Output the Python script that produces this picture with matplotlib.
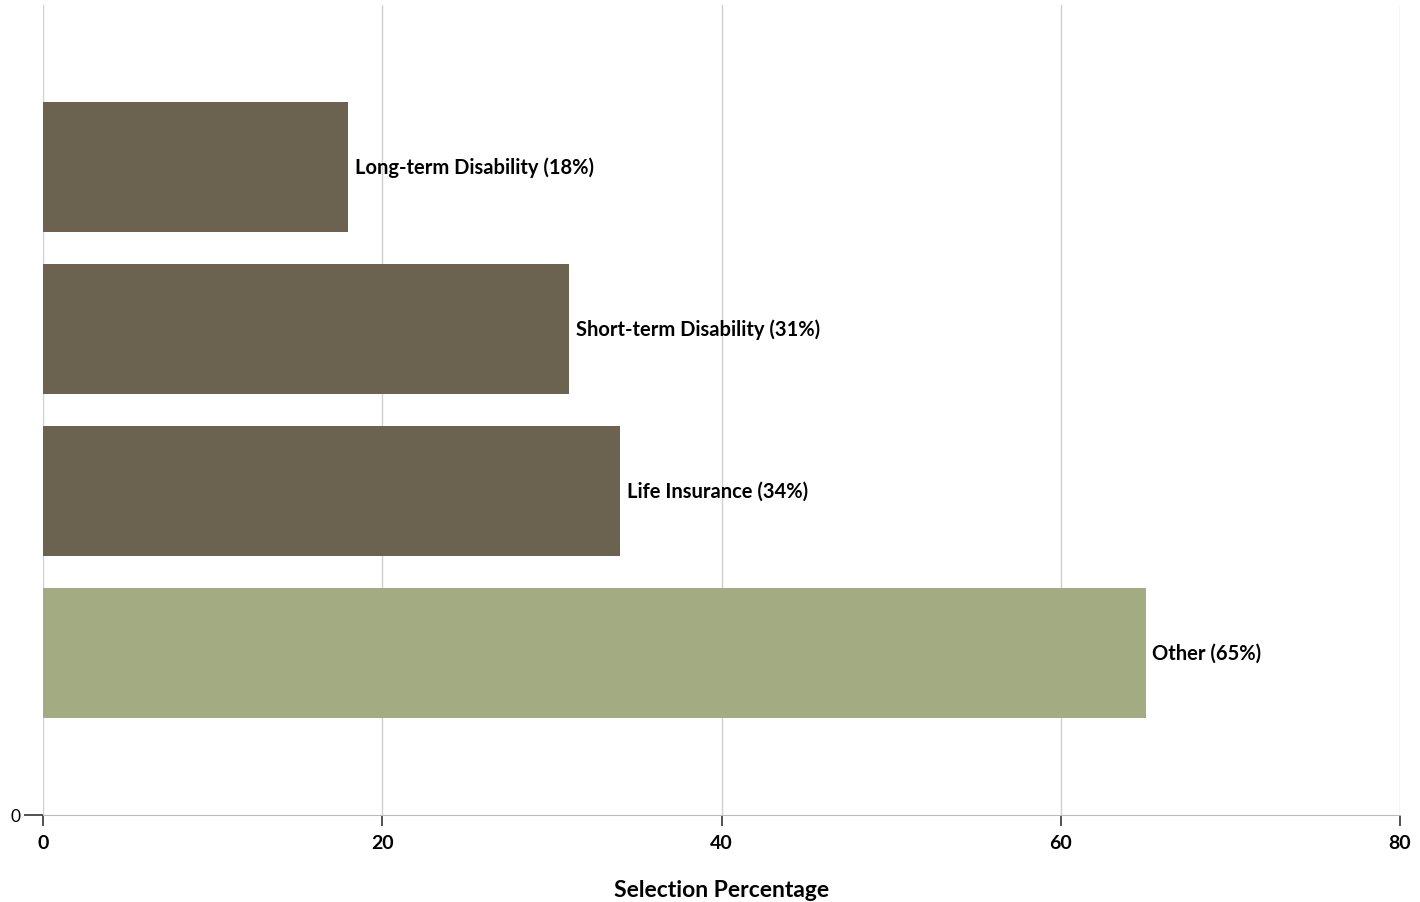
import matplotlib.pyplot as plt

# --- data ---
categories = ['Other', 'Life Insurance', 'Short-term Disability', 'Long-term Disability']
values = [65, 34, 31, 18]
colors = ['#a2ab81', '#6b634f', '#6b634f', '#6b634f']
x_ticks = [0, 20, 40, 60, 80]

plt.rcParams['font.family'] = ['Lato', 'DejaVu Sans']

fig = plt.figure(figsize=(14.2, 9.03), dpi=100)
ax = fig.add_axes([43 / 1420, 87 / 903, 1357 / 1420, 810 / 903])

pos = list(range(1, len(categories) + 1))
ax.barh(pos, values, height=0.8, color=colors, zorder=2)

# value labels to the right of each bar
for p, cat, v in zip(pos, categories, values):
    ax.text(v + 0.4, p, f'{cat} ({v}%)', va='center', ha='left',
            fontsize=14.5, fontweight='bold', color='black')

ax.set_xlim(0, 80)
ax.set_ylim(0, 5)
ax.set_xticks(x_ticks)
ax.set_xticklabels([str(t) for t in x_ticks], fontsize=14, fontweight='bold')
ax.set_yticks([0])
ax.set_yticklabels(['0'], fontsize=12.5)

ax.grid(axis='x', color='#d0d0d0', linewidth=1, zorder=0)
for side in ['top', 'right', 'left']:
    ax.spines[side].set_visible(False)
ax.spines['bottom'].set_color('#bbbbbb')
ax.tick_params(axis='x', length=8, width=1.2, color='#333333', pad=6)
ax.tick_params(axis='y', length=14, width=1.2, color='#333333', pad=2)

ax.set_xlabel('Selection Percentage', fontsize=16.5, fontweight='bold', labelpad=20)

fig.savefig('out.png', dpi=100)
